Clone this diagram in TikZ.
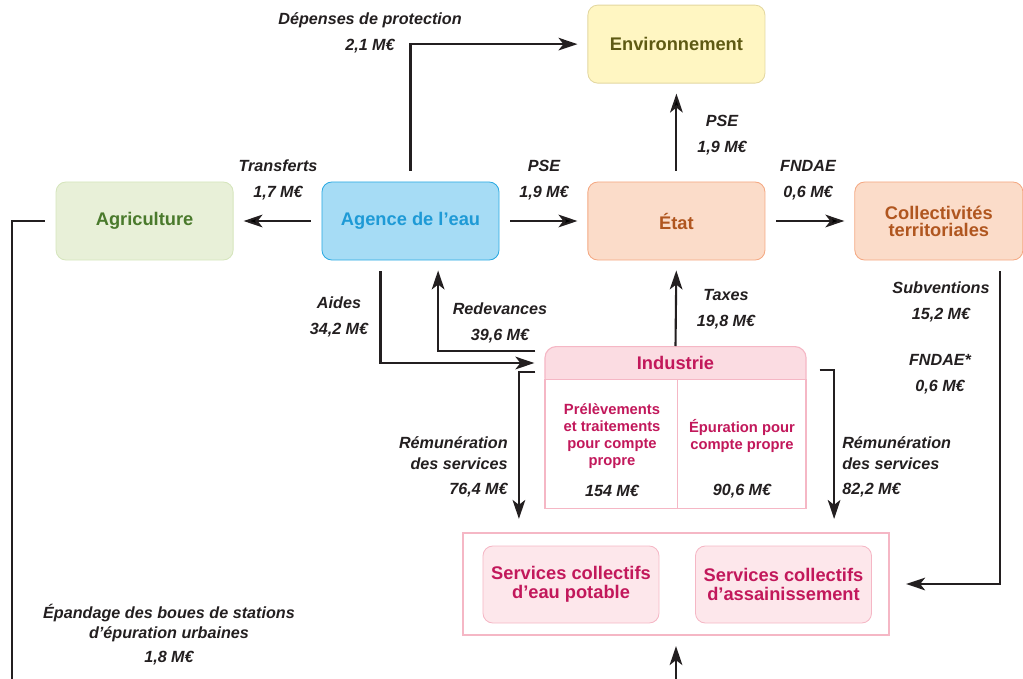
\documentclass[tikz,border=0pt]{standalone}
\usepackage{fontspec}
\setmainfont{Liberation Sans}
\usepackage{tikz}
\usetikzlibrary{arrows.meta, positioning}

\definecolor{linec}{HTML}{231F20}
\definecolor{envfill}{HTML}{FFF6C2}
\definecolor{envdraw}{HTML}{E3D7A0}
\definecolor{envtext}{HTML}{5E5A14}
\definecolor{agrifill}{HTML}{E8F0D8}
\definecolor{agridraw}{HTML}{D5E5BC}
\definecolor{agritext}{HTML}{4A7A2C}
\definecolor{agfill}{HTML}{A6DCF5}
\definecolor{agdraw}{HTML}{2BAAE2}
\definecolor{agtext}{HTML}{1E9AD6}
\definecolor{etatfill}{HTML}{FBDCC9}
\definecolor{etatdraw}{HTML}{F4A882}
\definecolor{etattext}{HTML}{B0561F}
\definecolor{indfill}{HTML}{FBDCE2}
\definecolor{inddraw}{HTML}{F5B7C5}
\definecolor{indtext}{HTML}{C2185B}
\definecolor{svcfill}{HTML}{FDE7EB}

\tikzset{
  block/.style={
    rectangle,
    rounded corners=7pt,
    minimum width=4.425cm,
    minimum height=1.95cm,
    align=center,
    line width=0.6pt,
    font=\bfseries\fontsize{13}{13.5}\selectfont
    },
  envbox/.style={block, draw=envdraw, fill=envfill, text=envtext},
  agribox/.style={block, draw=agridraw, fill=agrifill, text=agritext},
  agencebox/.style={block, draw=agdraw, fill=agfill, text=agtext},
  etatbox/.style={block, draw=etatdraw, fill=etatfill, text=etattext},
  indhead/.style={
    rectangle,
    rounded corners=8pt,
    minimum width=6.525cm,
    inner ysep=0pt,
    text height=0.5625cm,
    text depth=0.51cm,
    draw=inddraw,
    fill=indfill,
    text=indtext,
    line width=0.8pt,
    font=\bfseries\fontsize{13}{13.5}\selectfont
    },
  indbody/.style={
    rectangle,
    minimum width=6.525cm,
    minimum height=3.225cm,
    draw=inddraw,
    fill=white,
    line width=0.8pt
    },
  indtxt/.style={
    align=center,
    text=indtext,
    font=\bfseries\fontsize{10.5}{12}\selectfont
    },
  svcframe/.style={
    rectangle,
    minimum width=10.65cm,
    minimum height=2.55cm,
    draw=inddraw,
    line width=1.5pt
    },
  svcbox/.style={block, draw=inddraw, fill=svcfill, text=indtext,
    minimum width=4.4cm, minimum height=1.925cm},
  lbl/.style={
    align=center,
    inner sep=0pt,
    text=linec,
    font=\bfseries\itshape\fontsize{11.5}{18.4}\selectfont
    },
  flow/.style={
    draw=linec,
    line width=1.5pt,
    -{Stealth[length=13.5pt,width=9pt,inset=3.5pt]},
    shorten >=0.25cm,
    shorten <=0.275cm
    },
  flowline/.style={draw=linec, line width=1.5pt, shorten <=0.275cm},
}

\begin{document}
\begin{tikzpicture}[
            x = 0.025cm, % one unit per pixel
            y = -0.025cm,
            node distance = 2.2cm % gap between the boxes of the middle row
        ]
  \useasboundingbox (0,0) rectangle (1023,678);
  \clip (0,0) rectangle (1023,678);

  % middle row
  \node[agencebox] (agence) at (410.5,221) {Agence de l’eau};
  \node[agribox] (agri) [left=of agence] {Agriculture};
  \node[etatbox] (etat) [right=of agence] {État};
  \node[etatbox, minimum width=4.2cm, font=\bfseries\fontsize{13}{12}\selectfont]
       (coll) [right=2.225cm of etat] {Collectivités\\territoriales};
  \node[envbox] (env) [above=2.45cm of etat] {Environnement};

  % industry
  \node[indhead, anchor=north] (indh) at (675.5,346) {Industrie};
  \node[indbody, anchor=north] (indb) at (675.5,379) {};
  \draw[draw=inddraw, line width=0.8pt] ([xshift=0.05cm]indb.north) -- ([xshift=0.05cm]indb.south);
  \node[indtxt] (prel) at (612,436) {Prélèvements\\et traitements\\pour compte\\propre};
  \node[indtxt] (epur) at (742,436) {Épuration pour\\compte propre};
  \node[lbl] (vprel) at (612,491) {154 M€};
  \node[lbl] (vepur) at (742,491) {90,6 M€};

  % services
  \node[svcframe] (svc) at (676,584) {};
  \node[svcbox] (eaup) at (571,584.5) {Services collectifs\\d’eau potable};
  \node[svcbox] (assain) at (783.5,584.5) {Services collectifs\\d’assainissement};

  % flows
  \draw[flow] (agence.north) |- (env.west);
  \path[flow] (agence) edge (agri);
  \path[flow] (agence) edge (etat);
  \path[flow] (etat) edge (env);
  \path[flow] (etat) edge (coll);
  \draw[flow] ([xshift=-0.75cm]agence.south) |- ([yshift=-0.425cm]indh.north west);
  \draw[flow, shorten <=0.225cm] ([yshift=-0.125cm]indh.north west) -| ([xshift=0.69cm]agence.south);
  \draw[flow, shorten <=0pt] (indh.north) -- (etat.south);
  \draw[flow, shorten <=0.225cm, shorten >=0.325cm] ([yshift=-0.65cm]indh.north west) -| ([xshift=1.425cm]svc.north west);
  \draw[flow, shorten <=0.325cm, shorten >=0.325cm] ([yshift=-0.6cm]indh.north east) -| ([xshift=-1.4cm]svc.north east);
  \draw[flow, shorten >=0.4cm] ([xshift=1.525cm]coll.south) |- (svc.east);

  \coordinate (sludgeout) at (12,700);
  \coordinate (sludgein) at (676,700);
  \draw[flowline] (agri.west) -| (sludgeout);
  \draw[flow, shorten <=0pt] (sludgein) -- (svc.south);

  % labels
  \node[lbl] (ldep) at (370,33) {Dépenses de protection\\2,1 M€};
  \node[lbl] (ltrans) at (278,180) {Transferts\\1,7 M€};
  \node[lbl] (lpse) at (544,180) {PSE\\1,9 M€};
  \node[lbl] (lpsenv) at (722,135) {PSE\\1,9 M€};
  \node[lbl] (lfndae) at (808,180) {FNDAE\\0,6 M€};
  \node[lbl] (laides) at (339,317) {Aides\\34,2 M€};
  \node[lbl] (lredev) at (500,323) {Redevances\\39,6 M€};
  \node[lbl] (ltaxes) at (726,309) {Taxes\\19,8 M€};
  \node[lbl] (lsubv) at (941,302) {Subventions\\15,2 M€};
  \node[lbl] (lfndaes) at (940,374) {FNDAE*\\0,6 M€};
  \node[lbl, align=right, anchor=east, font=\bfseries\itshape\fontsize{11.5}{15}\selectfont]
       (lremg) at (508,467) {Rémunération\\des services\\[3pt]76,4 M€};
  \node[lbl, align=left, anchor=west, font=\bfseries\itshape\fontsize{11.5}{15}\selectfont]
       (lremd) at (842,467) {Rémunération\\des services\\[3pt]82,2 M€};
  \node[lbl, font=\bfseries\itshape\fontsize{11.5}{14.2}\selectfont]
       (lepand) at (169,635) {Épandage des boues de stations\\d’épuration urbaines\\[3pt]1,8 M€};
\end{tikzpicture}
\end{document}
